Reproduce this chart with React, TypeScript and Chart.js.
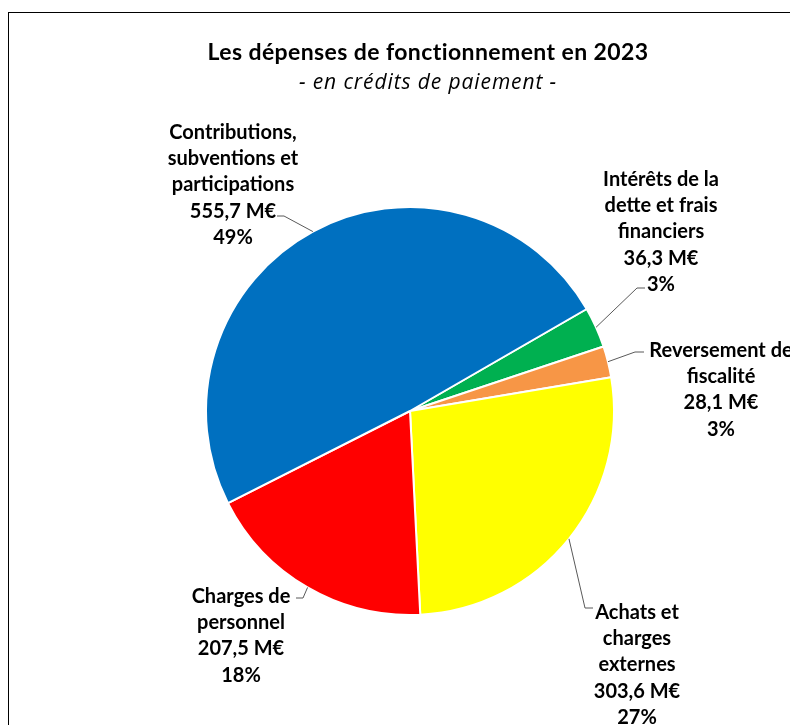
import React, { useEffect, useRef } from "react";
import { Chart, registerables } from "chart.js";

Chart.register(...registerables);

// ---- Data ----
const categoryLines: string[][] = [
  ["Intérêts de la", "dette et frais", "financiers"],
  ["Reversement de", "fiscalité"],
  ["Achats et", "charges", "externes"],
  ["Charges de", "personnel"],
  ["Contributions,", "subventions et", "participations"],
];
const values: number[] = [36.3, 28.1, 303.6, 207.5, 555.7];
const percentLabels: string[] = ["3%", "3%", "27%", "18%", "49%"];
const sliceColors: string[] = ["#00B050", "#F79646", "#FFFF00", "#FF0000", "#0070C0"];

const titleText = "Les dépenses de fonctionnement en 2023";
const subtitleText = "- en crédits de paiement -";

// ---- Label layout (text centre x, first baseline y, leader elbow & end) ----
const labelLayout = [
  { x: 661, y: 186, elbow: [637, 288], end: [645, 288] },
  { x: 721, y: 357, elbow: [635, 352], end: [644, 352] },
  { x: 637, y: 619, elbow: [585, 608], end: [593, 608] },
  { x: 241, y: 603, elbow: [303, 598], end: [296, 598] },
  { x: 233, y: 139, elbow: [284, 216], end: [277, 216] },
];

const FONT = "Lato, 'Open Sans', sans-serif";
const LINE_H = 26.2;

const fmtValue = (v: number) => v.toFixed(1).replace(".", ",") + " M€";

const labelsPlugin = {
  id: "customLabels",
  afterDatasetsDraw(chart: any) {
    const ctx: any = chart.ctx;
    const meta = chart.getDatasetMeta(0);
    ctx.save();
    // leader lines
    meta.data.forEach((arc: any, i: number) => {
      const p = arc.getProps(["x", "y", "startAngle", "endAngle", "outerRadius"], true);
      const mid = (p.startAngle + p.endAngle) / 2;
      const ax = p.x + Math.cos(mid) * p.outerRadius;
      const ay = p.y + Math.sin(mid) * p.outerRadius;
      const L = labelLayout[i];
      ctx.beginPath();
      ctx.moveTo(ax, ay);
      ctx.lineTo(L.elbow[0], L.elbow[1]);
      ctx.lineTo(L.end[0], L.end[1]);
      ctx.strokeStyle = "#595959";
      ctx.lineWidth = 1;
      ctx.stroke();
    });
    // label text
    ctx.fillStyle = "#000";
    ctx.textAlign = "center";
    ctx.textBaseline = "alphabetic";
    ctx.font = `bold 20px ${FONT}`;
    meta.data.forEach((_arc: any, i: number) => {
      const L = labelLayout[i];
      const lines = [...categoryLines[i], fmtValue(values[i]), percentLabels[i]];
      lines.forEach((t, k) => ctx.fillText(t, L.x, L.y + k * LINE_H));
    });
    // title
    ctx.font = `bold 23px ${FONT}`;
    ctx.letterSpacing = "0.4px";
    ctx.fillText(titleText, 428, 60);
    ctx.font = `italic 21px 'Open Sans', sans-serif`;
    ctx.letterSpacing = "0.9px";
    ctx.fillText(subtitleText, 428, 89);
    ctx.letterSpacing = "0px";
    ctx.restore();
  },
};

export default function App() {
  const ref = useRef<HTMLCanvasElement | null>(null);
  useEffect(() => {
    if (!ref.current) return;
    const chart = new Chart(ref.current, {
      type: "pie",
      data: {
        labels: categoryLines.map((l) => l.join(" ")),
        datasets: [
          {
            data: values,
            backgroundColor: sliceColors,
            borderColor: "#ffffff",
            borderWidth: 2,
            radius: 204,
          } as any,
        ],
      },
      options: {
        responsive: false,
        animation: false,
        rotation: 60,
        layout: { padding: { left: 206, right: 176, top: 207, bottom: 110 } },
        plugins: {
          legend: { display: false },
          tooltip: { enabled: false },
          title: { display: false },
        },
      },
      plugins: [labelsPlugin],
    });
    return () => chart.destroy();
  }, []);

  return (
    <div style={{ position: "absolute", left: 0, top: 0, width: 790, height: 725, overflow: "hidden", background: "#fff" }}>
      <div
        style={{
          position: "absolute",
          left: 8,
          top: 12,
          width: 1000,
          height: 1000,
          border: "1px solid #000",
        }}
      />
      <canvas ref={ref} width={790} height={725} style={{ position: "absolute", left: 0, top: 0 }} />
    </div>
  );
}
